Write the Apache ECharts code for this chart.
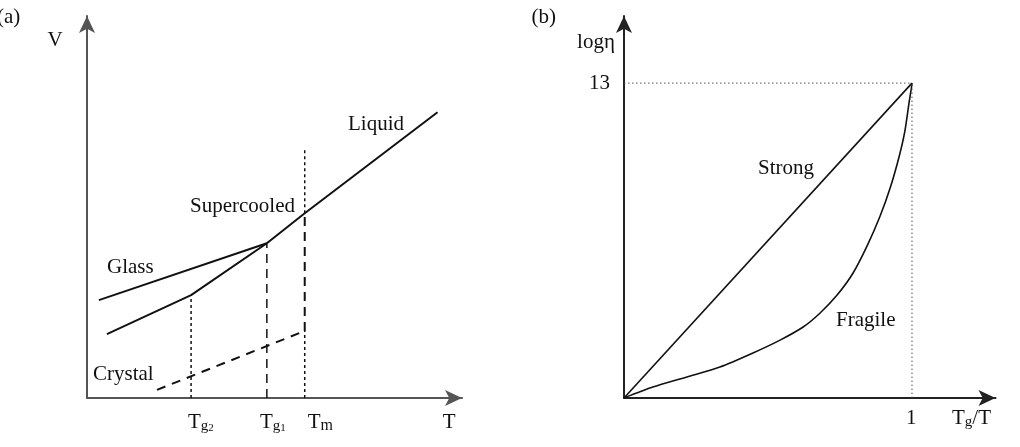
<!DOCTYPE html>
<html><head><meta charset="utf-8">
<script src="https://cdn.jsdelivr.net/npm/echarts@6/dist/echarts.min.js"></script>
<style>html,body{margin:0;padding:0;background:#fff}#c{width:1020px;height:447px}</style>
</head><body><div id="c"></div>
<script>
// ---- Panel (a): specific volume V vs temperature T ----
const liquidBranch = [[4.70, 3.97], [5.69, 4.74], [9.16, 7.33]];  // supercooled + liquid
const glassFast = [[0.31, 2.51], [4.70, 3.97]];                    // glass formed at Tg1
const glassSlow = [[0.52, 1.64], [2.72, 2.64], [4.70, 3.97]];      // glass formed at Tg2
const crystal = [[1.83, 0.21], [5.69, 1.72]];
const tg2Drop = [[2.72, 0], [2.72, 2.64]];
const tg1Drop = [[4.70, 0], [4.70, 3.97]];
const tmTop = [[5.69, 4.74], [5.69, 6.36]];
const tmMid = [[5.69, 1.72], [5.69, 4.74]];
const tmLow = [[5.69, 0], [5.69, 1.72]];
const leftTickValues = [2.64, 4.52, 5.77, 9.30];
const leftTickLabels = ['{t|T}{s|g}{ss|2}', '{t|T}{s|g}{ss|1}', '{t|T}{m|m}', '{t|T}'];

// ---- Panel (b): log viscosity vs Tg/T ----
const strong = [[0, 0], [1, 13]];
const fragile = [[0, 0], [0.10, 0.45], [0.219, 0.87], [0.333, 1.28], [0.448, 1.86], [0.542, 2.39],
  [0.622, 2.93], [0.681, 3.51], [0.740, 4.25], [0.795, 5.15], [0.845, 6.3], [0.889, 7.5],
  [0.925, 8.7], [0.955, 9.95], [0.975, 11.0], [0.99, 12.2], [0.998, 12.8], [1, 13]];
const guideH = [[0, 13], [1, 13]];
const guideV = [[1, 0], [1, 13]];
const rightXTickValues = [0.979, 1.139];
const rightXTickLabels = ['{t|1}', '{t|T}{s|g}{t|/T}'];
const rightYTickValues = [13];
const rightYTickLabels = ['13'];

const FONT = '"Liberation Serif","DejaVu Serif",serif';
const FS = 21;
const rich = {
  t: {fontSize: FS, fontFamily: FONT, color: '#111', lineHeight: 22, verticalAlign: 'top'},
  s: {fontSize: 15, fontFamily: FONT, color: '#111', lineHeight: 14, padding: [12, 0, 0, 0], verticalAlign: 'bottom'},
  ss: {fontSize: 11, fontFamily: FONT, color: '#111', lineHeight: 11, padding: [20, 0, 0, 0], verticalAlign: 'bottom'},
  m: {fontSize: 16, fontFamily: FONT, color: '#111', lineHeight: 16, padding: [8, 0, 0, 0], verticalAlign: 'bottom'}
};
function labelFor(values, labels) {
  return function (v) {
    let best = 0, d = Infinity;
    values.forEach((x, i) => { if (Math.abs(x - v) < d) { d = Math.abs(x - v); best = i; } });
    return labels[best];
  };
}
function line(data, xi, opts) {
  return Object.assign({
    type: 'line', xAxisIndex: xi, yAxisIndex: xi, data: data, symbol: 'none',
    silent: true, animation: false,
    lineStyle: {color: '#111', width: 2}
  }, opts || {});
}
const axisArrow = (color) => ({show: true, symbol: ['none', 'arrow'], symbolSize: [12, 17],
  lineStyle: {color: color, width: 2}});

const chart = echarts.init(document.getElementById('c'), null, {renderer: 'canvas'});
chart.setOption({
  backgroundColor: '#fff',
  animation: false,
  grid: [
    {left: 87, right: 558, top: 16, bottom: 49},
    {left: 624, right: 24.5, top: 16, bottom: 49}
  ],
  xAxis: [
    {gridIndex: 0, type: 'value', min: 0, max: 9.8, splitLine: {show: false}, axisTick: {show: false},
      axisLine: axisArrow('#555'),
      axisLabel: {customValues: leftTickValues, align: 'left', margin: 14, rich: rich,
        formatter: labelFor(leftTickValues, leftTickLabels)}},
    {gridIndex: 1, type: 'value', min: 0, max: 1.29, splitLine: {show: false}, axisTick: {show: false},
      axisLine: axisArrow('#222'),
      axisLabel: {customValues: rightXTickValues, align: 'left', margin: 10, rich: rich,
        formatter: labelFor(rightXTickValues, rightXTickLabels)}}
  ],
  yAxis: [
    {gridIndex: 0, type: 'value', min: 0, max: 9.8, splitLine: {show: false}, axisTick: {show: false},
      axisLine: axisArrow('#555'), axisLabel: {show: false}},
    {gridIndex: 1, type: 'value', min: 0, max: 15.77, splitLine: {show: false}, axisTick: {show: false},
      axisLine: axisArrow('#222'),
      axisLabel: {customValues: rightYTickValues, margin: 14, fontSize: FS, fontFamily: FONT, color: '#111',
        formatter: labelFor(rightYTickValues, rightYTickLabels)}}
  ],
  series: [
    line(liquidBranch, 0),
    line(glassFast, 0),
    line(glassSlow, 0),
    line(crystal, 0, {lineStyle: {color: '#111', width: 2, type: [9, 7]}}),
    line(tg2Drop, 0, {lineStyle: {color: '#111', width: 1.5, type: [3, 3]}}),
    line(tg1Drop, 0, {lineStyle: {color: '#111', width: 1.5, type: [9, 6]}}),
    line(tmTop, 0, {lineStyle: {color: '#111', width: 1.5, type: [3, 3]}}),
    line(tmMid, 0, {lineStyle: {color: '#111', width: 2, type: [9, 6]}}),
    line(tmLow, 0, {lineStyle: {color: '#111', width: 1.5, type: [3, 3]}}),
    line(strong, 1, {lineStyle: {color: '#111', width: 1.6}}),
    line(fragile, 1, {smooth: 0.25, lineStyle: {color: '#111', width: 1.6}}),
    line(guideH, 1, {lineStyle: {color: '#555', width: 1, type: [1.5, 2.5]}}),
    line(guideV, 1, {lineStyle: {color: '#555', width: 1, type: [1.5, 2.5]}})
  ],
  graphic: [
    {type: 'text', x: -3, y: 17, style: {text: '(a)', font: FS + 'px ' + FONT, fill: '#111', textVerticalAlign: 'middle'}},
    {type: 'text', x: 55, y: 40, style: {text: 'V', font: FS + 'px ' + FONT, fill: '#111', textAlign: 'center', textVerticalAlign: 'middle'}},
    {type: 'text', x: 348, y: 124, style: {text: 'Liquid', font: FS + 'px ' + FONT, fill: '#111', textVerticalAlign: 'middle'}},
    {type: 'text', x: 190, y: 206, style: {text: 'Supercooled', font: FS + 'px ' + FONT, fill: '#111', textVerticalAlign: 'middle'}},
    {type: 'text', x: 107, y: 267, style: {text: 'Glass', font: FS + 'px ' + FONT, fill: '#111', textVerticalAlign: 'middle'}},
    {type: 'text', x: 93, y: 374, style: {text: 'Crystal', font: FS + 'px ' + FONT, fill: '#111', textVerticalAlign: 'middle'}},
    {type: 'text', x: 556, y: 17, style: {text: '(b)', font: FS + 'px ' + FONT, fill: '#111', textAlign: 'right', textVerticalAlign: 'middle'}},
    {type: 'text', x: 596, y: 42, style: {text: 'logη', font: FS + 'px ' + FONT, fill: '#111', textAlign: 'center', textVerticalAlign: 'middle'}},
    {type: 'text', x: 758, y: 168, style: {text: 'Strong', font: FS + 'px ' + FONT, fill: '#111', textVerticalAlign: 'middle'}},
    {type: 'text', x: 836, y: 320, style: {text: 'Fragile', font: FS + 'px ' + FONT, fill: '#111', textVerticalAlign: 'middle'}}
  ]
});
</script></body></html>
